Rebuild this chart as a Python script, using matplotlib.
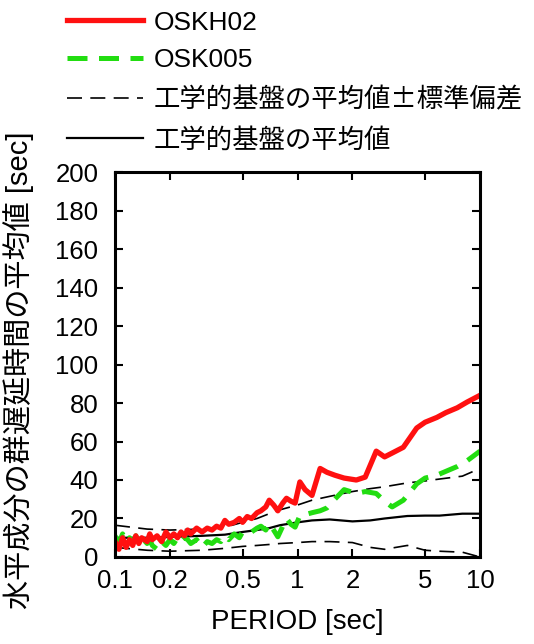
import matplotlib
matplotlib.use('Agg')
import matplotlib.pyplot as plt
from matplotlib.lines import Line2D

plt.rcParams['font.family'] = ['Liberation Sans', 'Noto Sans CJK JP', 'DejaVu Sans']

# Period grid for the two stations
period = [0.10, 0.105, 0.11, 0.115, 0.12, 0.125, 0.13, 0.135, 0.14, 0.15, 0.155, 0.16,
          0.17, 0.18, 0.19, 0.2, 0.21, 0.22, 0.23, 0.24, 0.25, 0.26, 0.28, 0.3, 0.32,
          0.34, 0.36, 0.38, 0.4, 0.42, 0.45, 0.48, 0.5, 0.53, 0.56, 0.6, 0.63, 0.67,
          0.7, 0.74, 0.78, 0.83, 0.87, 0.92, 0.97, 1.03, 1.1, 1.2, 1.33, 1.45, 1.6,
          1.8, 2.1, 2.35, 2.7, 3.0, 3.3, 3.8, 4.5, 5.0, 5.8, 6.5, 7.5, 8.5, 10.0]

oskh02 = [8, 4, 10, 5, 9, 6, 11, 7, 10, 8, 12, 9,
          11, 8, 13, 10, 12, 10, 13, 11, 14, 12, 15, 13, 15,
          14, 16, 15, 19, 17, 18, 20, 18, 21, 20, 23, 24, 26,
          29.5, 27, 24, 28, 30.5, 29, 28, 39, 35, 32, 46, 44, 42.5,
          41, 40, 41.5, 55, 52, 54, 57, 67, 70, 72.5, 75, 77.5, 80.5, 84]

osk005 = [11, 7, 12, 8, 10, 7, 11, 8, 10, 7, 9, 6,
          4, 8, 6, 9, 7, 10, 8, 10, 9, 7, 9, 5, 8,
          7, 9, 8, 11, 9, 12, 10, 13, 12, 13, 15, 16, 14,
          17.5, 14, 10.5, 16, 20, 17, 15.5, 21.5, 22, 23, 24, 25.5, 30,
          35, 33, 34, 33, 29, 26, 29.5, 38, 41, 42.5, 44.5, 47, 50, 55]

# Engineering bedrock statistics
base_period = [0.1, 0.15, 0.2, 0.3, 0.4, 0.5, 0.6, 0.7, 0.8, 1.0, 1.2, 1.5, 2.0,
               2.5, 3.0, 4.0, 5.0, 6.0, 8.0, 10.0]
base_mean = [10, 10, 10.4, 11, 11.6, 13, 14, 15, 16.5, 18, 19, 19.5, 18.5,
             19, 20, 21.3, 21.5, 21.5, 22.5, 22.5]
base_upper = [16.5, 14.5, 14, 14.5, 15.5, 18, 20, 22.5, 24.5, 27, 29.5, 31.5, 34,
              35.5, 36.5, 38.5, 39.5, 40.5, 42, 46]
base_lower = [5, 3.5, 3, 3.5, 4.5, 5.5, 6, 6.5, 7, 7.5, 8, 8, 7.5,
              5, 4, 6, 3.5, 3, 2.5, 0]

x_ticks = [0.1, 0.2, 0.5, 1, 2, 5, 10]
x_ticklabels = ['0.1', '0.2', '0.5', '1', '2', '5', '10']
y_ticks = list(range(0, 201, 20))

fig = plt.figure(figsize=(5.34, 6.44), dpi=100)
ax = fig.add_axes([0.2154, 0.1351, 0.6835, 0.5978])

ax.plot(base_period, base_upper, color='black', lw=1.2, dashes=[9, 5])
ax.plot(base_period, base_lower, color='black', lw=1.2, dashes=[9, 5])
ax.plot(base_period, base_mean, color='black', lw=1.6)
ax.plot(period, osk005, color='#22dd11', lw=3.6, dashes=[4, 2.3])
ax.plot(period, oskh02, color='#ff1010', lw=3.8)

ax.set_xscale('log')
ax.set_xlim(0.1, 10)
ax.set_ylim(0, 200)
ax.set_xticks(x_ticks)
ax.set_xticklabels(x_ticklabels)
ax.xaxis.set_minor_locator(matplotlib.ticker.NullLocator())
ax.set_yticks(y_ticks)
ax.tick_params(direction='in', length=6, width=1.5, labelsize=18.5,
               top=True, right=True)
ax.tick_params(axis='y', pad=12)
ax.tick_params(axis='x', pad=9)
for s in ax.spines.values():
    s.set_linewidth(2.2)

ax.set_xlabel('PERIOD [sec]', fontsize=20, labelpad=11)
ax.set_ylabel('水平成分の群遅延時間の平均値 [sec]', fontsize=21)
ax.yaxis.set_label_coords(-0.222, 0.485)

handles = [
    Line2D([], [], color='#ff1010', lw=3.8),
    Line2D([], [], color='#22dd11', lw=3.6, dashes=[4, 2.3]),
    Line2D([], [], color='black', lw=1.2, dashes=[9, 5]),
    Line2D([], [], color='black', lw=1.6),
]
labels = ['OSKH02', 'OSK005', '工学的基盤の平均値±標準偏差', '工学的基盤の平均値']
leg = fig.legend(handles, labels, loc='upper left', bbox_to_anchor=(0.105, 1.0),
                 frameon=False, fontsize=19, handlelength=2.9, handletextpad=0.4,
                 labelspacing=0.52, borderaxespad=0)
for t in leg.get_texts()[2:]:
    t.set_family(['Noto Sans CJK JP', 'Liberation Sans'])

fig.savefig('out.png', dpi=100)
